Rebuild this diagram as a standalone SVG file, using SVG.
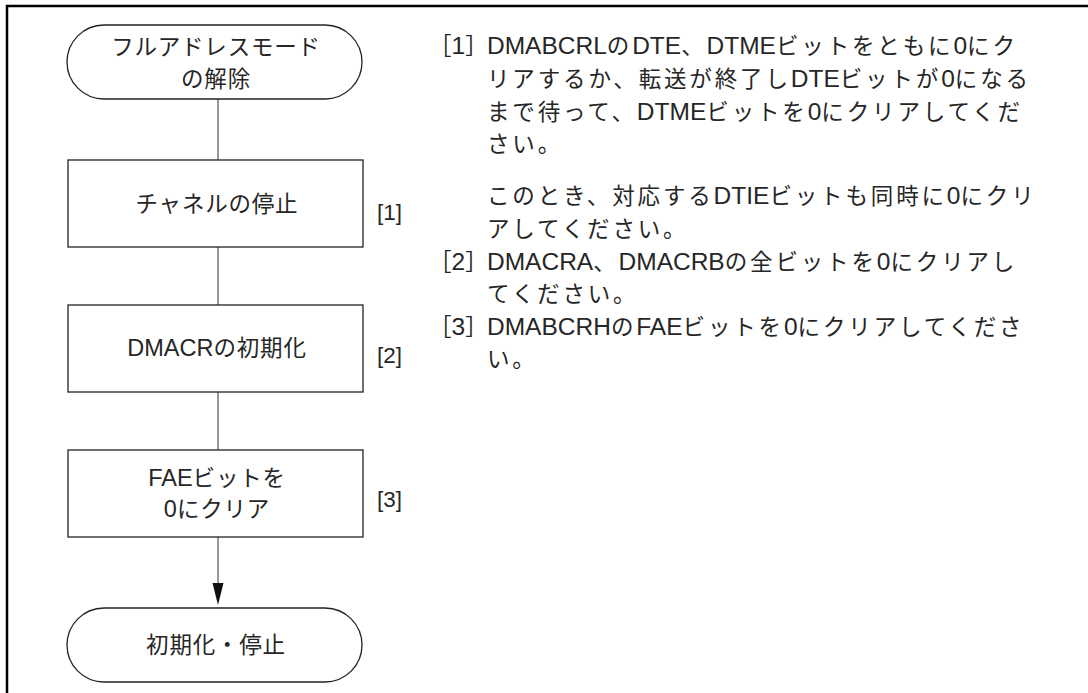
<svg xmlns="http://www.w3.org/2000/svg" width="1088" height="693" viewBox="0 0 1088 693">
<defs>
<style>
.t{font-family:"Liberation Sans","Noto Sans CJK JP",sans-serif;font-size:22.5px;fill:#262626;}
.b{letter-spacing:0.8px;}
.r{letter-spacing:2.85px;}
.L{font-size:24.5px;letter-spacing:0;}
.M{font-size:23.5px;letter-spacing:0;}
.m{text-anchor:middle;}
.n{fill:#fff;stroke:#222;stroke-width:1.3;}
.c{stroke:#555;stroke-width:1.2;fill:none;}
</style>
</defs>
<rect width="1088" height="693" fill="#fff"/>
<path d="M7,693 V6 H1088" fill="none" stroke="#000" stroke-width="2.5"/>
<g id="connectors">
<line class="c" x1="218" y1="99" x2="218" y2="160"/>
<line class="c" x1="218" y1="247" x2="218" y2="305"/>
<line class="c" x1="218" y1="392" x2="218" y2="450"/>
<line class="c" x1="218" y1="537" x2="218" y2="584"/>
<path d="M212.5,583 L223.5,583 L218,605 Z" fill="#111"/>
</g>
<g id="start">
<rect class="n" x="67" y="25" width="295" height="74" rx="37"/>
<text class="t b m" x="216" y="55">フルアドレスモード</text>
<text class="t b m" x="216" y="87">の解除</text>
</g>
<g id="step1">
<rect class="n" x="68" y="160" width="295" height="87"/>
<text class="t b m" x="217" y="212">チャネルの停止</text>
<text class="t" x="377" y="220">[1]</text>
</g>
<g id="step2">
<rect class="n" x="68" y="305" width="295" height="87"/>
<text class="t b m" x="217" y="356"><tspan class="M">DMACR</tspan>の初期化</text>
<text class="t" x="377" y="363">[2]</text>
</g>
<g id="step3">
<rect class="n" x="68" y="450" width="295" height="87"/>
<text class="t b m" x="217" y="486"><tspan class="M">FAE</tspan>ビットを</text>
<text class="t b m" x="217" y="517"><tspan class="M">0</tspan>にクリア</text>
<text class="t" x="377" y="507">[3]</text>
</g>
<g id="end">
<rect class="n" x="67" y="608" width="295" height="74" rx="37"/>
<text class="t b m" x="216" y="653">初期化・停止</text>
</g>
<g id="notes">
<text class="t" x="429" y="54">［<tspan class="L">1</tspan>］</text>
<text class="t r" x="487" y="54"><tspan class="L">DMABCRL</tspan>の<tspan class="L">DTE</tspan>、<tspan class="L">DTME</tspan>ビットをともに<tspan class="L">0</tspan>にク</text>
<text class="t r" x="487" y="87">リアするか、転送が終了し<tspan class="L">DTE</tspan>ビットが<tspan class="L">0</tspan>になる</text>
<text class="t r" x="487" y="120">まで待って、<tspan class="L">DTME</tspan>ビットを<tspan class="L">0</tspan>にクリアしてくだ</text>
<text class="t r" x="487" y="152">さい。</text>
<text class="t r" x="487" y="204">このとき、対応する<tspan class="L">DTIE</tspan>ビットも同時に<tspan class="L">0</tspan>にクリ</text>
<text class="t r" x="487" y="237">アしてください。</text>
<text class="t" x="429" y="270">［<tspan class="L">2</tspan>］</text>
<text class="t r" x="487" y="270"><tspan class="L">DMACRA</tspan>、<tspan class="L">DMACRB</tspan>の全ビットを<tspan class="L">0</tspan>にクリアし</text>
<text class="t r" x="487" y="302">てください。</text>
<text class="t" x="429" y="335">［<tspan class="L">3</tspan>］</text>
<text class="t r" x="487" y="335"><tspan class="L">DMABCRH</tspan>の<tspan class="L">FAE</tspan>ビットを<tspan class="L">0</tspan>にクリアしてくださ</text>
<text class="t r" x="487" y="367">い。</text>
</g>
</svg>
